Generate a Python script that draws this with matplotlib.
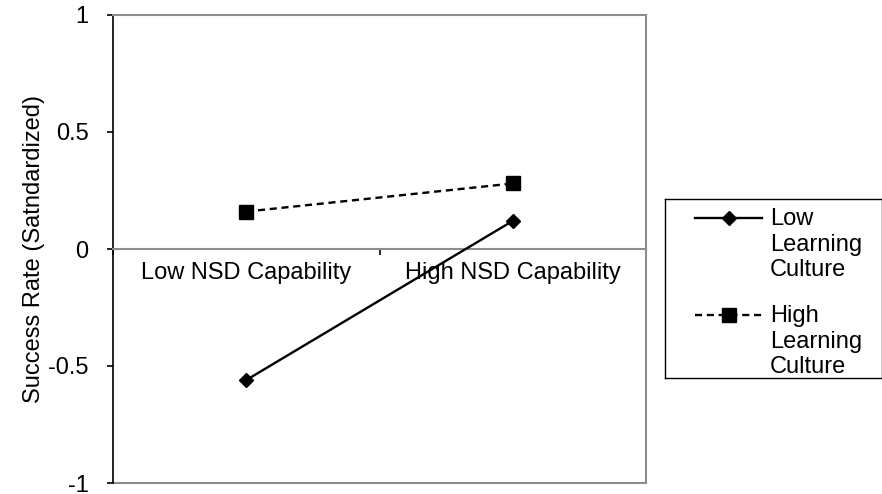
import matplotlib
matplotlib.use("Agg")
import matplotlib.pyplot as plt
from matplotlib.patches import Rectangle

# data
categories = ["Low NSD Capability", "High NSD Capability"]
low_culture = [-0.56, 0.12]
high_culture = [0.16, 0.28]
series_labels = ["Low\nLearning\nCulture", "High\nLearning\nCulture"]
y_ticks = [-1, -0.5, 0, 0.5, 1]
y_ticklabels = ["-1", "-0.5", "0", "0.5", "1"]

plt.rcParams["font.family"] = ["Liberation Sans", "DejaVu Sans"]
FS = 17
W, H = 882, 494
frame_grey = "#8c8c8c"

fig = plt.figure(figsize=(W / 100, H / 100), dpi=100)
ax = fig.add_axes([113 / W, 1 - 483 / H, 533 / W, 468 / H])

x = list(range(len(categories)))
ax.plot(x, low_culture, color="black", lw=1.7, marker="D", ms=7.5,
        zorder=3, clip_on=False)
ax.plot(x, high_culture, color="black", lw=1.7, ls=(0, (3, 2)), marker="s",
        ms=10.5, zorder=3, clip_on=False)

ax.set_xlim(-0.5, 1.5)
ax.set_ylim(-1, 1)

# category axis sits on y = 0
ax.spines["bottom"].set_position(("data", 0))
ax.spines["bottom"].set_color(frame_grey)
ax.spines["bottom"].set_linewidth(1.5)
for side in ("top", "right"):
    ax.spines[side].set_color(frame_grey)
    ax.spines[side].set_linewidth(1.5)
ax.spines["left"].set_color("black")
ax.spines["left"].set_linewidth(1.2)
ax.add_patch(Rectangle((0, 0), 1, 0.0001, transform=ax.transAxes, fill=False,
                       edgecolor=frame_grey, lw=1.5, clip_on=False))

ax.set_xticks([-0.5, 0.5, 1.5])
ax.set_xticklabels([])
ax.set_xticks(x, minor=True)
ax.set_xticklabels(categories, minor=True, fontsize=FS)
ax.tick_params(axis="x", which="major", direction="out", length=4.5,
               width=1.2, color="black")
ax.tick_params(axis="x", which="minor", length=0, pad=9)

ax.set_yticks(y_ticks)
ax.set_yticklabels(y_ticklabels, fontsize=FS)
ax.tick_params(axis="y", direction="out", length=4.5, width=1.2,
               color="black", pad=13)
ax.set_ylabel("Success Rate (Satndardized)", fontsize=FS, labelpad=2)

# legend box
lw_, lh_ = 216.5, 179
lax = fig.add_axes([665 / W, 1 - 378 / H, lw_ / W, lh_ / H])
lax.set_xlim(0, lw_)
lax.set_ylim(lh_, 0)
lax.set_xticks([])
lax.set_yticks([])
for sp in lax.spines.values():
    sp.set_color("black")
    sp.set_linewidth(1.0)

entries = [
    (series_labels[0], "-", "D", 7.5, 19),
    (series_labels[1], (0, (3, 2)), "s", 10.5, 116),
]
for label, ls, mk, ms, yy in entries:
    lax.plot([30, 63.5, 97], [yy, yy, yy], color="black", lw=1.7, ls=ls,
             marker=mk, ms=ms, markevery=[1])
    lax.text(105, yy - 10, label, fontsize=FS, va="top", ha="left",
             linespacing=1.22)

fig.savefig("out.png", dpi=100, facecolor="white")
